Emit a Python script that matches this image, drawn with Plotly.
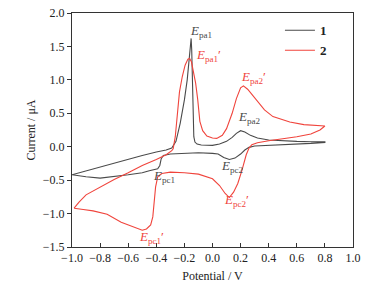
import plotly.graph_objects as go

# Curve 1 (black), scan order: anodic -1.0 -> 0.8, then cathodic back to -1.0
v1 = [-1.0, -0.9, -0.8, -0.7, -0.6, -0.5, -0.4, -0.33, -0.29, -0.26, -0.23, -0.2, -0.18, -0.165, -0.157, -0.152, -0.148, -0.145, -0.142, -0.138, -0.133, -0.125, -0.11, -0.08, -0.04, 0.0, 0.05, 0.1, 0.14, 0.17, 0.2, 0.23, 0.27, 0.32, 0.4, 0.5, 0.6, 0.7, 0.8,
      0.8, 0.7, 0.6, 0.5, 0.4, 0.3, 0.26, 0.23, 0.2, 0.16, 0.12, 0.08, 0.04, 0.0, -0.1, -0.2, -0.3, -0.35, -0.365, -0.375, -0.39, -0.45, -0.5, -0.6, -0.7, -0.8, -0.9, -1.0]
i1 = [-0.42, -0.36, -0.31, -0.25, -0.19, -0.13, -0.08, -0.05, -0.02, 0.08, 0.35, 0.7, 1.0, 1.3, 1.5, 1.62, 1.45, 1.05, 0.65, 0.33, 0.15, 0.07, 0.04, 0.025, 0.02, 0.02, 0.04, 0.08, 0.14, 0.2, 0.24, 0.22, 0.17, 0.13, 0.1, 0.085, 0.08, 0.075, 0.075,
      0.065, 0.05, 0.04, 0.035, 0.02, 0.01, -0.01, -0.05, -0.11, -0.17, -0.19, -0.16, -0.11, -0.10, -0.09, -0.095, -0.11, -0.13, -0.18, -0.28, -0.33, -0.36, -0.39, -0.42, -0.45, -0.47, -0.45, -0.42]

# Curve 2 (red)
v2 = [-0.985, -0.95, -0.9, -0.8, -0.7, -0.6, -0.5, -0.4, -0.33, -0.29, -0.28, -0.265, -0.25, -0.235, -0.215, -0.195, -0.175, -0.163, -0.15, -0.135, -0.12, -0.105, -0.09, -0.07, -0.04, 0.0, 0.03, 0.07, 0.1, 0.14, 0.17, 0.2, 0.22, 0.25, 0.31, 0.37, 0.43, 0.55, 0.65, 0.8,
      0.8, 0.765, 0.7, 0.6, 0.5, 0.4, 0.32, 0.28, 0.26, 0.24, 0.21, 0.18, 0.15, 0.12, 0.09, 0.05, 0.0, -0.1, -0.2, -0.3, -0.36, -0.39, -0.405, -0.415, -0.425, -0.44, -0.47, -0.5, -0.55, -0.65, -0.75, -0.85, -0.92, -0.985]
i2 = [-0.92, -0.83, -0.72, -0.60, -0.49, -0.39, -0.28, -0.19, -0.12, -0.06, -0.03, 0.15, 0.5, 0.82, 1.05, 1.22, 1.31, 1.32, 1.27, 1.12, 0.95, 0.7, 0.38, 0.24, 0.16, 0.13, 0.125, 0.17, 0.27, 0.5, 0.72, 0.88, 0.91, 0.86, 0.70, 0.55, 0.45, 0.37, 0.33, 0.31,
      0.31, 0.25, 0.19, 0.15, 0.125, 0.09, 0.06, 0.03, -0.02, -0.12, -0.35, -0.55, -0.68, -0.76, -0.70, -0.58, -0.48, -0.41, -0.39, -0.38, -0.40, -0.45, -0.6, -0.85, -1.05, -1.17, -1.23, -1.25, -1.21, -1.13, -1.01, -0.96, -0.94, -0.92]

x_ticks = [-1.0, -0.8, -0.6, -0.4, -0.2, 0.0, 0.2, 0.4, 0.6, 0.8, 1.0]
y_ticks = [-1.5, -1.0, -0.5, 0.0, 0.5, 1.0, 1.5, 2.0]

BLACK = "#4a4a4a"
RED = "#f0443c"
FONT = "Liberation Serif"

fig = go.Figure()
fig.add_trace(go.Scatter(x=v1, y=i1, mode="lines", name="<b>1</b>",
                         line=dict(color=BLACK, width=1.1)))
fig.add_trace(go.Scatter(x=v2, y=i2, mode="lines", name="<b>2</b>",
                         line=dict(color=RED, width=1.1)))

labels = [
    (-0.175, 1.72, "<i>E</i><sub>pa1</sub>", BLACK),
    (-0.13, 1.37, "<i>E</i><sub>pa1</sub>′", RED),
    (0.19, 1.03, "<i>E</i><sub>pa2</sub>′", RED),
    (0.17, 0.43, "<i>E</i><sub>pa2</sub>", BLACK),
    (-0.44, -0.44, "<i>E</i><sub>pc1</sub>", BLACK),
    (0.045, -0.29, "<i>E</i><sub>pc2</sub>", BLACK),
    (0.07, -0.80, "<i>E</i><sub>pc2</sub>′", RED),
    (-0.535, -1.36, "<i>E</i><sub>pc1</sub>′", RED),
]
for x, y, t, c in labels:
    fig.add_annotation(x=x, y=y, text=t, showarrow=False, xanchor="left", yanchor="middle",
                       font=dict(family=FONT, size=13, color=c))

fig.update_layout(
    width=380, height=283,
    margin=dict(l=72, r=27, t=13, b=36, autoexpand=False),
    paper_bgcolor="white", plot_bgcolor="white",
    font=dict(family=FONT, size=12, color="#222"),
    showlegend=True,
    legend=dict(x=0.74, y=0.99, xanchor="left", yanchor="top", bgcolor="rgba(0,0,0,0)",
                font=dict(family=FONT, size=13, color="#222"), tracegroupgap=0,
                itemwidth=30),
)
fig.update_xaxes(range=[-1.0, 1.0], tickvals=x_ticks, ticktext=[f"{v:.1f}".replace("-", "−") for v in x_ticks],
                 ticks="inside", ticklen=4, tickcolor="#333", showline=True, linecolor="#333", linewidth=1,
                 mirror=True, showgrid=False, zeroline=False, automargin=False, ticklabeloverflow="allow",
                 title=dict(text="Potential / V", font=dict(family=FONT, size=12), standoff=8))
fig.update_yaxes(range=[-1.5, 2.0], tickvals=y_ticks, ticktext=[f"{v:.1f}".replace("-", "−") for v in y_ticks],
                 ticks="outside", ticklen=4, tickcolor="#333", showline=True, linecolor="#333", linewidth=1,
                 mirror=True, showgrid=False, zeroline=False, automargin=False, ticklabeloverflow="allow",
                 title=dict(text="Current / μA", font=dict(family=FONT, size=12), standoff=4))

# remove the page's default 8px body margin so the figure fills the window exactly
fig.write_html("out.html", config={"displayModeBar": False},
               post_script="document.body.style.margin='0';")
